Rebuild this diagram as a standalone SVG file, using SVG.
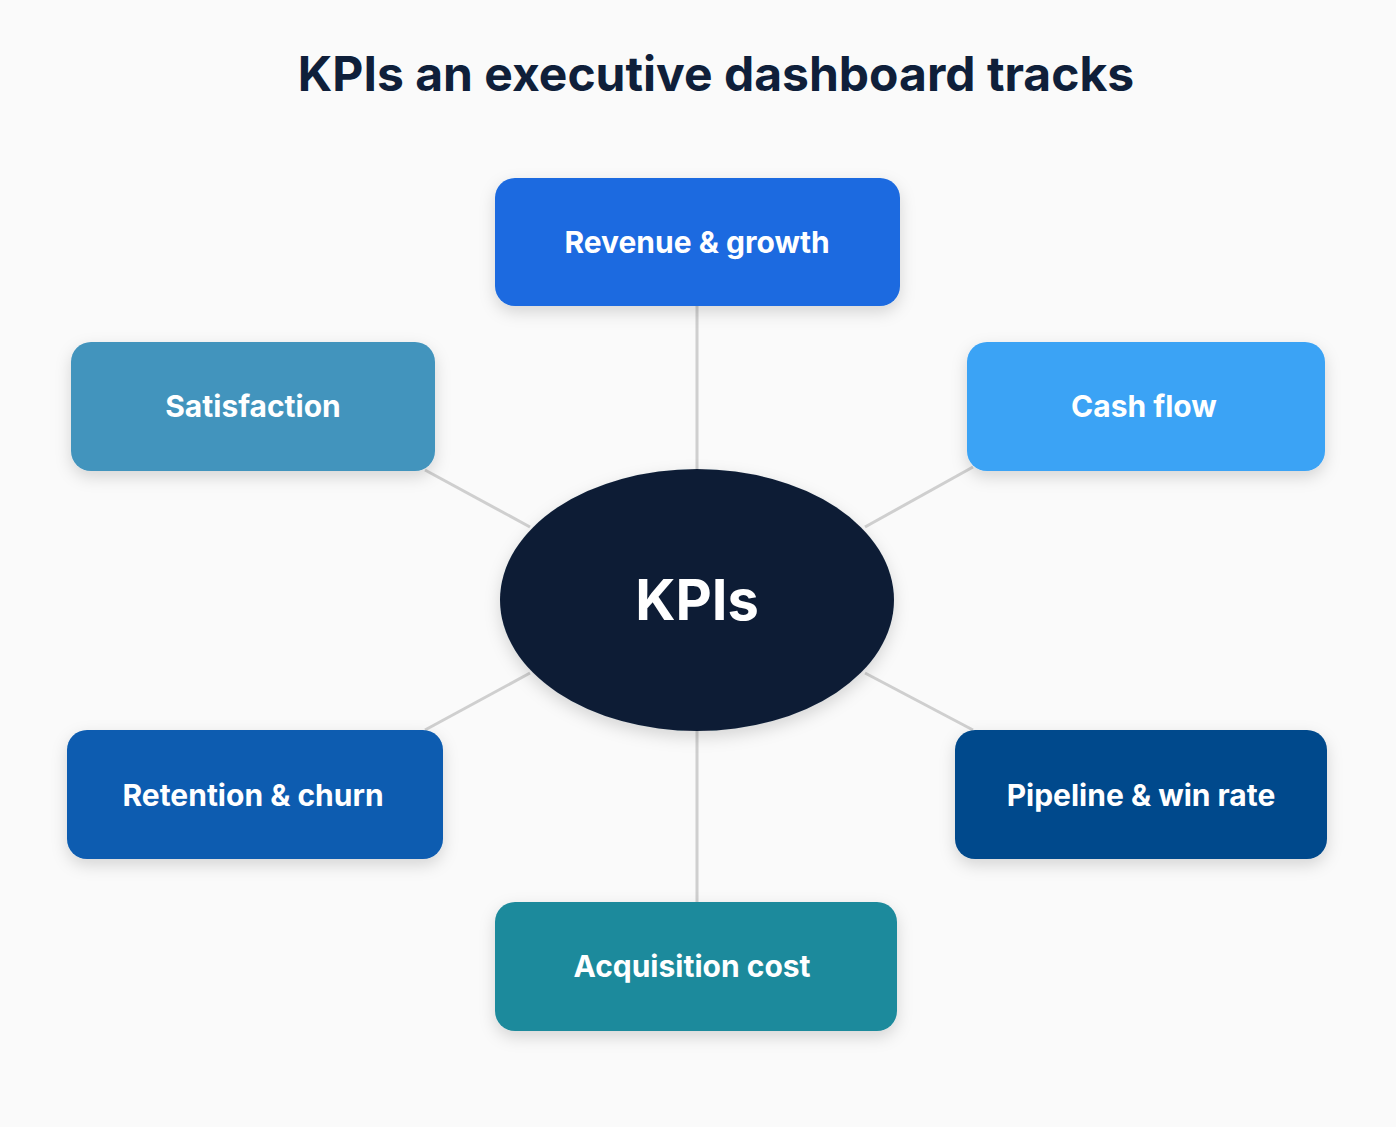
<svg xmlns="http://www.w3.org/2000/svg" width="1396" height="1127" viewBox="0 0 1396 1127">
<defs>
<filter id="sh" x="-20%" y="-30%" width="140%" height="160%"><feDropShadow dx="0" dy="6" stdDeviation="8" flood-color="#000" flood-opacity="0.15"/></filter>
<style>
.lbl{font-family:Inter,"Liberation Sans",sans-serif;font-weight:700;font-size:30px;fill:#fff;text-anchor:middle;dominant-baseline:central}
.ln{stroke:#cfcfcf;stroke-width:3;fill:none}
</style>
</defs>
<rect width="1396" height="1127" fill="#fafafa"/>
<text x="716" y="73" font-family="Inter,'Liberation Sans',sans-serif" font-weight="700" font-size="48" fill="#0f1f3a" text-anchor="middle" dominant-baseline="central">KPIs an executive dashboard tracks</text>
<g id="connectors">
<line class="ln" x1="697" y1="306" x2="697" y2="470"/>
<line class="ln" x1="697" y1="731" x2="697" y2="902"/>
<line class="ln" x1="425" y1="470" x2="530" y2="527"/>
<line class="ln" x1="973" y1="467" x2="865" y2="527"/>
<line class="ln" x1="530" y1="673" x2="425" y2="730"/>
<line class="ln" x1="865" y1="673" x2="973" y2="730"/>
</g>
<g id="center"><ellipse cx="697" cy="600" rx="197" ry="131" fill="#0b1d36" filter="url(#sh)"/><text class="lbl" x="697" y="600" font-size="56" style="font-size:56px">KPIs</text></g>
<g id="revenue"><rect x="495" y="178" width="405" height="128" rx="20" fill="#1a6ae0" filter="url(#sh)"/><text class="lbl" x="697" y="242">Revenue &amp; growth</text></g>
<g id="satisfaction"><rect x="71" y="342" width="364" height="129" rx="20" fill="#4394bd" filter="url(#sh)"/><text class="lbl" x="253" y="406">Satisfaction</text></g>
<g id="cashflow"><rect x="967" y="342" width="358" height="129" rx="20" fill="#3ba3f5" filter="url(#sh)"/><text class="lbl" x="1144" y="406">Cash flow</text></g>
<g id="retention"><rect x="67" y="730" width="376" height="129" rx="20" fill="#0a5bb0" filter="url(#sh)"/><text class="lbl" x="253" y="795">Retention &amp; churn</text></g>
<g id="pipeline"><rect x="955" y="730" width="372" height="129" rx="20" fill="#064a8c" filter="url(#sh)"/><text class="lbl" x="1141" y="795">Pipeline &amp; win rate</text></g>
<g id="acquisition"><rect x="495" y="902" width="402" height="129" rx="20" fill="#1e8a9c" filter="url(#sh)"/><text class="lbl" x="692" y="966">Acquisition cost</text></g>
</svg>
